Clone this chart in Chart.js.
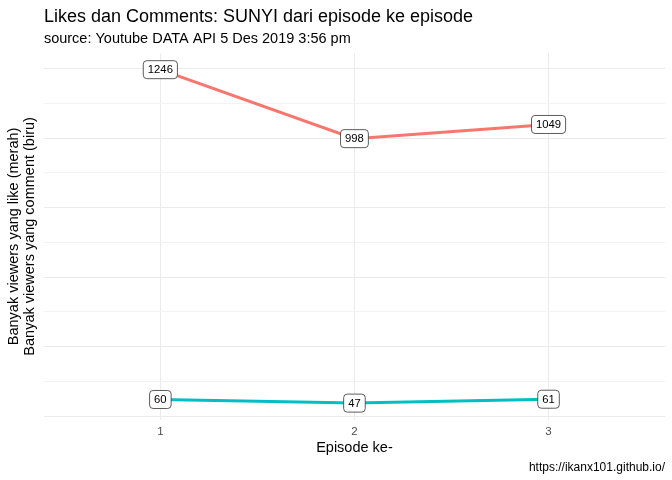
<!DOCTYPE html>
<html><head><meta charset="utf-8">
<script src="https://cdn.jsdelivr.net/npm/chart.js@4"></script>
<style>html,body{margin:0;padding:0;background:#fff}</style>
</head><body>
<canvas id="c" width="672" height="480" style="width:672px;height:480px"></canvas>
<script>
const episodes = [1, 2, 3];
const likes = [1246, 998, 1049];
const comments = [60, 47, 61];
const xTickValues = [1, 2, 3];
const yGridValues = [0, 125, 250, 375, 500, 625, 750, 875, 1000, 1125, 1250];
const titleText = 'Likes dan Comments: SUNYI dari episode ke episode';
const subtitleText = 'source: Youtube DATA API 5 Des 2019 3:56 pm';
const captionText = 'https://ikanx101.github.io/';
const xTitle = 'Episode ke-';
const yTitle = ['Banyak viewers yang like (merah)', 'Banyak viewers yang comment (biru)'];

const FONT = '"Liberation Sans", Arial, sans-serif';

const labelPlugin = {
  id: 'boxLabels',
  afterDatasetsDraw(chart) {
    const ctx = chart.ctx;
    ctx.save();
    ctx.font = '11.3px ' + FONT;
    ctx.textAlign = 'center';
    ctx.textBaseline = 'middle';
    chart.data.datasets.forEach((ds, di) => {
      const meta = chart.getDatasetMeta(di);
      meta.data.forEach((pt, i) => {
        const txt = String(ds.data[i].y);
        const w = ctx.measureText(txt).width + 9;
        const h = 18;
        const x = pt.x - w / 2, y = pt.y - h / 2, r = 3.5;
        ctx.beginPath();
        ctx.moveTo(x + r, y);
        ctx.lineTo(x + w - r, y);
        ctx.arcTo(x + w, y, x + w, y + r, r);
        ctx.lineTo(x + w, y + h - r);
        ctx.arcTo(x + w, y + h, x + w - r, y + h, r);
        ctx.lineTo(x + r, y + h);
        ctx.arcTo(x, y + h, x, y + h - r, r);
        ctx.lineTo(x, y + r);
        ctx.arcTo(x, y, x + r, y, r);
        ctx.closePath();
        ctx.fillStyle = '#ffffff';
        ctx.fill();
        ctx.lineWidth = 0.8;
        ctx.strokeStyle = '#333333';
        ctx.stroke();
        ctx.fillStyle = '#000000';
        ctx.fillText(txt, pt.x, pt.y + 0.5);
      });
    });
    ctx.restore();
  }
};

const textPlugin = {
  id: 'texts',
  afterDraw(chart) {
    const ctx = chart.ctx;
    const a = chart.chartArea;
    ctx.save();
    ctx.fillStyle = '#000000';
    ctx.textBaseline = 'alphabetic';
    ctx.textAlign = 'left';
    ctx.font = '18px ' + FONT;
    ctx.fillText(titleText, a.left, 22);
    ctx.font = '14.5px ' + FONT;
    ctx.fillText(subtitleText, a.left, 43);
    ctx.textAlign = 'right';
    ctx.font = '12px ' + FONT;
    ctx.fillText(captionText, a.right, 471);
    ctx.restore();
  }
};

new Chart(document.getElementById('c'), {
  type: 'line',
  data: {
    datasets: [
      { data: episodes.map((e, i) => ({ x: e, y: likes[i] })), borderColor: '#F8766D', borderWidth: 3, pointRadius: 0, fill: false, tension: 0 },
      { data: episodes.map((e, i) => ({ x: e, y: comments[i] })), borderColor: '#00BFC4', borderWidth: 3, pointRadius: 0, fill: false, tension: 0 }
    ]
  },
  options: {
    responsive: false,
    devicePixelRatio: 1,
    animation: false,
    layout: { padding: { left: 4, right: 7, top: 53, bottom: 23 } },
    plugins: { legend: { display: false }, tooltip: { enabled: false }, title: { display: false } },
    scales: {
      x: {
        type: 'linear', min: 0.4, max: 3.6,
        afterBuildTicks: (s) => { s.ticks = xTickValues.map(v => ({ value: v })); },
        ticks: { color: '#4D4D4D', font: { family: FONT, size: 11.5 }, padding: 5, autoSkip: false, maxRotation: 0 },
        grid: { color: '#EBEBEB', lineWidth: 1, drawTicks: false },
        border: { display: false },
        title: { display: true, text: xTitle, color: '#000', font: { family: FONT, size: 14.5 }, padding: { top: -4, bottom: 0 } }
      },
      y: {
        type: 'linear', min: -13, max: 1306,
        afterBuildTicks: (s) => { s.ticks = yGridValues.map(v => ({ value: v })); },
        ticks: { display: false },
        grid: { color: (c) => (c.tick && c.tick.value % 250 === 0) ? '#EBEBEB' : '#F3F3F3', lineWidth: 1, drawTicks: false },
        border: { display: false },
        title: { display: true, text: yTitle, color: '#000', font: { family: FONT, size: 14.5, lineHeight: 1.1 }, padding: { top: 2, bottom: 6 } }
      }
    }
  },
  plugins: [labelPlugin, textPlugin]
});
</script>
</body></html>
